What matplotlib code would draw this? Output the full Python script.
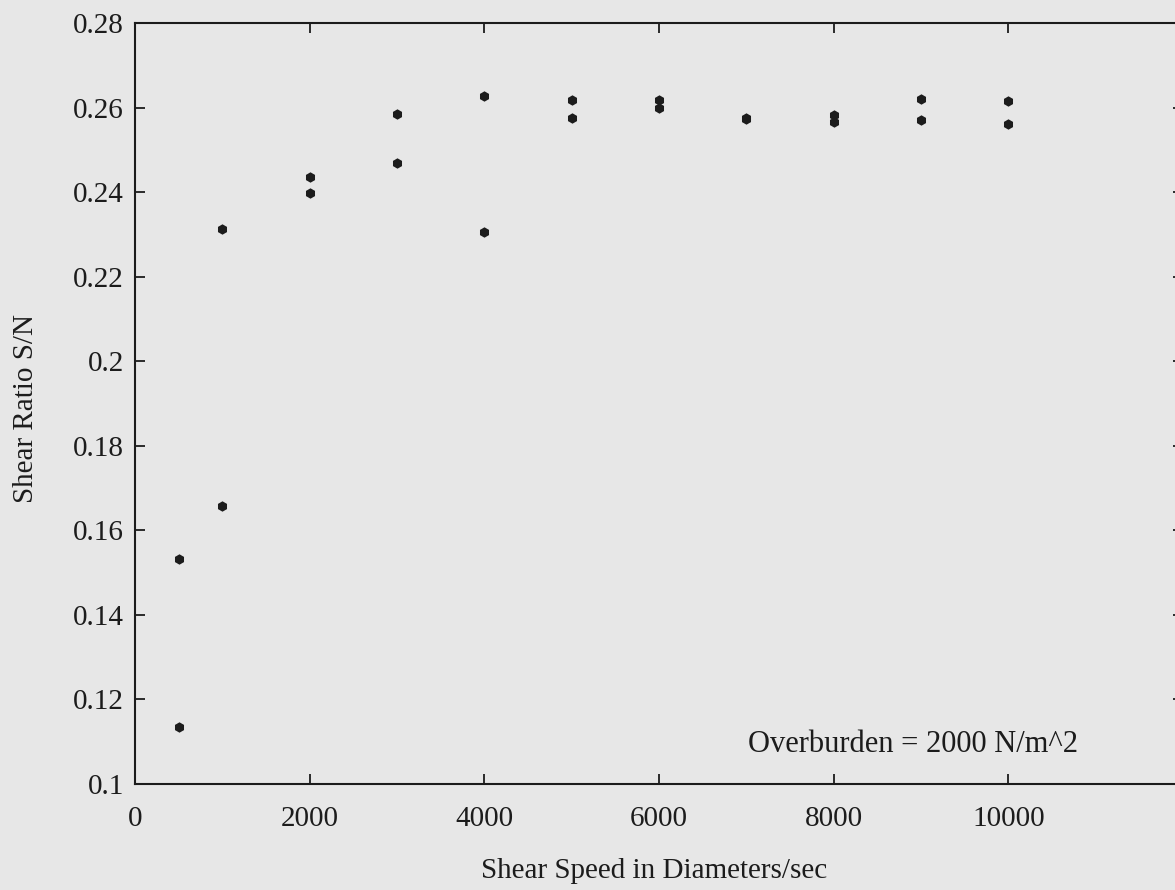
import numpy as np
import matplotlib
matplotlib.use("Agg")
import matplotlib.pyplot as plt
from matplotlib.ticker import FuncFormatter

# shear ratio measurements, two runs per shear speed
speed = [500, 500, 1000, 1000, 2000, 2000, 3000, 3000, 4000, 4000,
         5000, 5000, 6000, 6000, 7000, 7000, 8000, 8000, 9000, 9000,
         10000, 10000]
ratio = [0.1531, 0.1135, 0.2313, 0.1657, 0.2437, 0.2397, 0.2584, 0.2470,
         0.2628, 0.2306, 0.2618, 0.2575, 0.2618, 0.2599, 0.2576, 0.2574,
         0.2582, 0.2566, 0.2620, 0.2571, 0.2616, 0.2561]

x_ticks = [0, 2000, 4000, 6000, 8000, 10000]
y_ticks = np.arange(0.10, 0.281, 0.02)

bg = "#e7e7e7"
ink = "#1c1c1c"
plt.rcParams["font.family"] = ["Liberation Serif", "DejaVu Serif"]

fig = plt.figure(figsize=(11.75, 8.9), dpi=100, facecolor=bg)
ax = fig.add_axes([135 / 1175, 1 - 783.7 / 890, 1048 / 1175, 760.5 / 890])
ax.set_facecolor(bg)

ax.plot(speed, ratio, linestyle="none", marker="h", markersize=7.5,
        color=ink, markeredgewidth=0)

ax.set_xlim(0, 12000)
ax.set_ylim(0.10, 0.28)
ax.set_xticks(x_ticks)
ax.set_yticks(y_ticks)
ax.yaxis.set_major_formatter(FuncFormatter(lambda v, p: "%g" % round(v, 2)))

for s in ax.spines.values():
    s.set_linewidth(1.5)
    s.set_color(ink)
ax.tick_params(direction="in", length=7, width=1.3, color=ink,
               top=True, right=True, labelsize=21, labelcolor=ink)
ax.tick_params(axis="x", pad=16)
ax.tick_params(axis="y", pad=8)

ax.set_xlabel("Shear Speed in Diameters/sec", fontsize=21, color=ink)
ax.set_ylabel("Shear Ratio S/N", fontsize=21, color=ink)
ax.xaxis.set_label_coords(0.495, -0.098)
ax.yaxis.set_label_coords(-0.092, 0.494)

ax.text(8912, 0.1093, "Overburden = 2000 N/m^2", fontsize=22, color=ink,
        ha="center", va="center")

fig.savefig("out.png", dpi=100, facecolor=bg)
